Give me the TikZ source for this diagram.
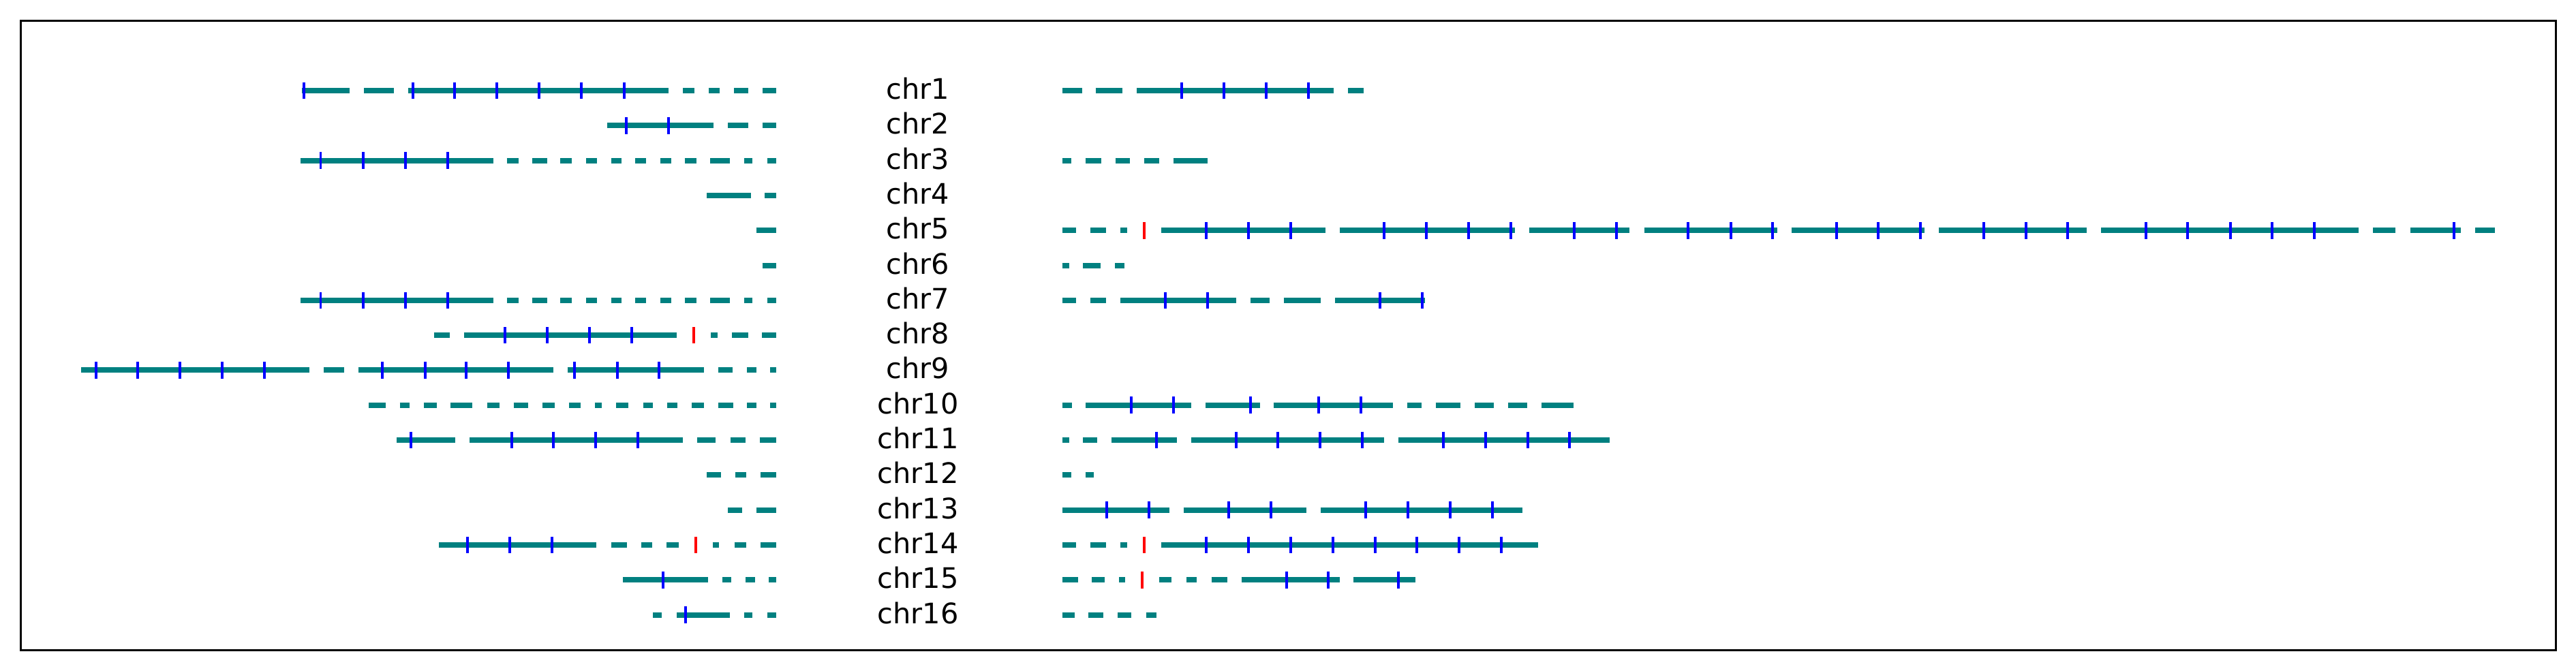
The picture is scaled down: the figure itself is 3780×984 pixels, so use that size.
\documentclass[tikz,border=0pt]{standalone}
\usepackage{fontspec}
\setmainfont{DejaVu Sans}
\usepackage{tikz}
\definecolor{contigteal}{RGB}{0,128,128}
\tikzset{segline/.style={contigteal, line width=1.93pt},
  bluetick/.style={blue, line width=0.96pt},
  redtick/.style={red, line width=0.96pt},
  chrlabel/.style={anchor=base, inner sep=0pt, font=\fontsize{10}{12}\selectfont}}

\begin{document}
\begin{tikzpicture}[x=0.2409pt, y=-0.2409pt]
  \useasboundingbox (0,0) rectangle (3780,984);
  \draw[line width=0.8pt] (30.5,30.5) rectangle (3750.5,954.5);

  % chr1
  \def\rowy{133}
  \foreach \a/\b in {442.5/513, 534/578, 599/981, 1002/1018.5, 1039.5/1056, 1077/1098, 1119/1139,
      1558.5/1587.5, 1607.5/1647, 1668/1957, 1978/2001}
    \draw[segline] (\a,\rowy) -- (\b,\rowy);
  \foreach \t in {446, 606, 667, 728.5, 791, 853, 915.5, 1733.5, 1795.5, 1857.5, 1919.5}
    \draw[bluetick] (\t,\rowy-12.3) -- (\t,\rowy+12.3);
  \node[chrlabel] (chr1) at (1347,\rowy+12.5) {chr1};

  % chr2
  \def\rowy{184.3}
  \foreach \a/\b in {891/1046.5, 1068/1098, 1118.5/1139}
    \draw[segline] (\a,\rowy) -- (\b,\rowy);
  \foreach \t in {919, 981}
    \draw[bluetick] (\t,\rowy-12.3) -- (\t,\rowy+12.3);
  \node[chrlabel] (chr2) at (1347,\rowy+12.5) {chr2};

  % chr3
  \def\rowy{235.6}
  \foreach \a/\b in {440.5/723.5, 743.5/761, 781/803, 822/838.5, 860/875.5, 896.5/912, 932/947.5, 968.5/984.5,
      1004.5/1022, 1042/1071, 1092/1104, 1125.5/1139,
      1558.5/1572, 1592.5/1616, 1636.5/1658, 1679/1701, 1721.5/1772}
    \draw[segline] (\a,\rowy) -- (\b,\rowy);
  \foreach \t in {470.5, 533, 595, 657}
    \draw[bluetick] (\t,\rowy-12.3) -- (\t,\rowy+12.3);
  \node[chrlabel] (chr3) at (1347,\rowy+12.5) {chr3};

  % chr4
  \def\rowy{286.9}
  \foreach \a/\b in {1037/1101.5, 1122/1139}
    \draw[segline] (\a,\rowy) -- (\b,\rowy);
  \node[chrlabel] (chr4) at (1347,\rowy+12.5) {chr4};

  % chr5
  \def\rowy{338.2}
  \foreach \a/\b in {1109.5/1139,
      1558.5/1579, 1600/1622.5, 1644/1654, 1703.5/1944.5, 1965.5/2223, 2244/2391, 2412.5/2607.5,
      2628.5/2824, 2844.5/3061.5, 3083/3460.5, 3482/3515, 3536.5/3610.5, 3632/3660.5}
    \draw[segline] (\a,\rowy) -- (\b,\rowy);
  \foreach \t in {1770, 1832, 1893.5, 2031, 2092.5, 2155, 2217, 2310, 2372, 2477, 2539.5, 2601,
      2695, 2755.5, 2818, 2911, 2972.5, 3034, 3148.5, 3210, 3272.5, 3334, 3395.5, 3601}
    \draw[bluetick] (\t,\rowy-12.3) -- (\t,\rowy+12.3);
  \draw[redtick] (1679,\rowy-12.3) -- (1679,\rowy+12.3);
  \node[chrlabel] (chr5) at (1347,\rowy+12.5) {chr5};

  % chr6
  \def\rowy{389.5}
  \foreach \a/\b in {1118.5/1139, 1558.5/1569, 1589/1615, 1636/1649.5}
    \draw[segline] (\a,\rowy) -- (\b,\rowy);
  \node[chrlabel] (chr6) at (1347,\rowy+12.5) {chr6};

  % chr7
  \def\rowy{440.8}
  \foreach \a/\b in {440.5/723.5, 743.5/761, 781/803, 822/838.5, 860/875.5, 896.5/912, 932/947.5, 968.5/984.5,
      1004.5/1022, 1042/1071, 1092/1104, 1125.5/1139,
      1558.5/1579, 1600/1622.5, 1644/1814, 1835/1863, 1883.5/1938, 1959/2091}
    \draw[segline] (\a,\rowy) -- (\b,\rowy);
  \foreach \t in {470.5, 533, 595, 657, 1710, 1772, 2025, 2086.5}
    \draw[bluetick] (\t,\rowy-12.3) -- (\t,\rowy+12.3);
  \node[chrlabel] (chr7) at (1347,\rowy+12.5) {chr7};

  % chr8
  \def\rowy{492.1}
  \foreach \a/\b in {636.5/659.5, 680.5/993, 1043/1053, 1074/1097.5, 1118/1139}
    \draw[segline] (\a,\rowy) -- (\b,\rowy);
  \foreach \t in {740.5, 803, 865, 926.5}
    \draw[bluetick] (\t,\rowy-12.3) -- (\t,\rowy+12.3);
  \draw[redtick] (1018,\rowy-12.3) -- (1018,\rowy+12.3);
  \node[chrlabel] (chr8) at (1347,\rowy+12.5) {chr8};

  % chr9
  \def\rowy{543.4}
  \foreach \a/\b in {119/454, 475/504.5, 525.5/812, 832.5/1032.5, 1054/1075, 1096/1109.5, 1130/1139}
    \draw[segline] (\a,\rowy) -- (\b,\rowy);
  \foreach \t in {141, 202, 264, 326, 388, 561, 623.5, 684, 746, 843, 905.5, 966.5}
    \draw[bluetick] (\t,\rowy-12.3) -- (\t,\rowy+12.3);
  \node[chrlabel] (chr9) at (1347,\rowy+12.5) {chr9};

  % chr10
  \def\rowy{594.7}
  \foreach \a/\b in {541/565.5, 586.5/600.5, 621.5/640.5, 661/693, 714.5/732.5, 753.5/774.5, 796/813.5, 834.5/851.5,
      872.5/883, 904/922, 943.5/958, 979/994, 1015/1032.5, 1054/1075.5, 1096/1109.5, 1130/1139,
      1558.5/1573, 1593/1748, 1769/1848.5, 1868.5/2044, 2064.5/2085.5, 2106.5/2142.5, 2164/2192,
      2212.5/2241, 2262/2309}
    \draw[segline] (\a,\rowy) -- (\b,\rowy);
  \foreach \t in {1659.5, 1721.5, 1835, 1935, 1996.5}
    \draw[bluetick] (\t,\rowy-12.3) -- (\t,\rowy+12.3);
  \node[chrlabel] (chr10) at (1347,\rowy+12.5) {chr10};

  % chr11
  \def\rowy{646}
  \foreach \a/\b in {582/667.5, 689/1002, 1022.5/1049.5, 1071.5/1094, 1114.5/1139,
      1558.5/1569, 1589/1610, 1630.5/1727, 1748/2031, 2052/2361.5}
    \draw[segline] (\a,\rowy) -- (\b,\rowy);
  \foreach \t in {602.5, 751, 812, 874, 936, 1696.5, 1813.5, 1875, 1936.5, 1999, 2117.5, 2179.5,
      2241.5, 2302.5}
    \draw[bluetick] (\t,\rowy-12.3) -- (\t,\rowy+12.3);
  \node[chrlabel] (chr11) at (1347,\rowy+12.5) {chr11};

  % chr12
  \def\rowy{697.3}
  \foreach \a/\b in {1037/1058, 1079/1095, 1116/1139, 1558.5/1572, 1592.5/1605}
    \draw[segline] (\a,\rowy) -- (\b,\rowy);
  \node[chrlabel] (chr12) at (1347,\rowy+12.5) {chr12};

  % chr13
  \def\rowy{748.6}
  \foreach \a/\b in {1068/1089, 1110/1139, 1558.5/1716, 1736.5/1916.5, 1937.5/2233.5}
    \draw[segline] (\a,\rowy) -- (\b,\rowy);
  \foreach \t in {1624, 1686, 1802.5, 1865, 2004, 2066, 2128, 2190}
    \draw[bluetick] (\t,\rowy-12.3) -- (\t,\rowy+12.3);
  \node[chrlabel] (chr13) at (1347,\rowy+12.5) {chr13};

  % chr14
  \def\rowy{799.9}
  \foreach \a/\b in {644/874.5, 897/920, 941/957, 978/996, 1045.5/1055, 1077.5/1095, 1116/1139,
      1558.5/1579, 1600/1622.5, 1644/1654, 1703.5/2257}
    \draw[segline] (\a,\rowy) -- (\b,\rowy);
  \foreach \t in {686, 748, 810, 1770, 1832, 1893.5, 1956, 2017.5, 2079, 2140.5, 2202.5}
    \draw[bluetick] (\t,\rowy-12.3) -- (\t,\rowy+12.3);
  \foreach \t in {1020.5, 1679}
    \draw[redtick] (\t,\rowy-12.3) -- (\t,\rowy+12.3);
  \node[chrlabel] (chr14) at (1347,\rowy+12.5) {chr14};

  % chr15
  \def\rowy{851.2}
  \foreach \a/\b in {914/1039, 1060/1073, 1094/1107.5, 1128/1139,
      1558.5/1581.5, 1602/1621, 1642/1651, 1700.5/1718.5, 1741/1756, 1777.5/1801, 1821.5/1965.5,
      1985.5/2077}
    \draw[segline] (\a,\rowy) -- (\b,\rowy);
  \foreach \t in {972.5, 1887.5, 1948.5, 2052}
    \draw[bluetick] (\t,\rowy-12.3) -- (\t,\rowy+12.3);
  \draw[redtick] (1675.5,\rowy-12.3) -- (1675.5,\rowy+12.3);
  \node[chrlabel] (chr15) at (1347,\rowy+12.5) {chr15};

  % chr16
  \def\rowy{902.5}
  \foreach \a/\b in {958/970.5, 993/1071, 1092/1104, 1126/1139,
      1558.5/1576.5, 1596.5/1619, 1640/1660, 1681.5/1696.5}
    \draw[segline] (\a,\rowy) -- (\b,\rowy);
  \draw[bluetick] (1005.5,\rowy-12.3) -- (1005.5,\rowy+12.3);
  \node[chrlabel] (chr16) at (1347,\rowy+12.5) {chr16};
\end{tikzpicture}
\end{document}
